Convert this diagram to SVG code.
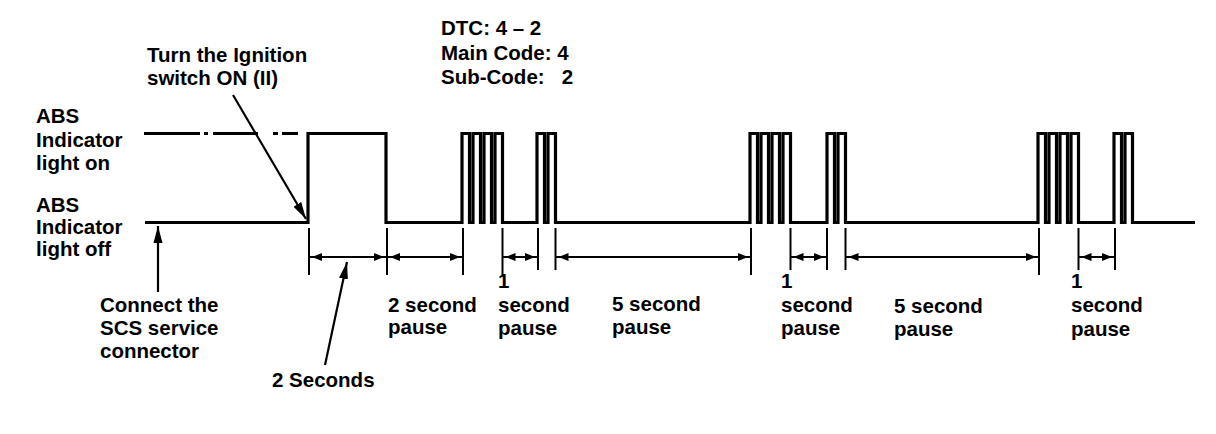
<svg xmlns="http://www.w3.org/2000/svg" width="1216" height="434" viewBox="0 0 1216 434">
<style>
text{font-family:"Liberation Sans",Arial,sans-serif;font-weight:bold;font-size:20.5px;fill:#000}
.wave{fill:none;stroke:#000;stroke-width:3.2;stroke-linejoin:miter;stroke-linecap:butt}
.ext{stroke:#000;stroke-width:2}
.dim{stroke:#000;stroke-width:2;marker-start:url(#dimArrow);marker-end:url(#dimArrow)}
.call{stroke:#000;stroke-width:2.2;fill:none;marker-end:url(#callArrow)}
</style>
<defs>
<marker id="dimArrow" markerUnits="userSpaceOnUse" markerWidth="16" markerHeight="12" viewBox="0 0 16 12" refX="13" refY="6" orient="auto-start-reverse">
<path d="M0,2 L10,6 L0,10 Z" fill="#000"/>
</marker>
<marker id="callArrow" markerUnits="userSpaceOnUse" markerWidth="18" markerHeight="12" viewBox="0 0 18 12" refX="17" refY="6" orient="auto">
<path d="M0,1.5 L17,6 L0,10.5 Z" fill="#000"/>
</marker>
</defs>
<rect width="1216" height="434" fill="#fff"/>

<g id="signal">
<path class="wave" d="M145,222.5 H308 V133.5 H386 V222.5 H462 V133.5 H469.5 V222.5 H473 V133.5 H480.5 V222.5 H484 V133.5 H491.5 V222.5 H495 V133.5 H502.5 V222.5 H537 V133.5 H544.5 V222.5 H548 V133.5 H555.5 V222.5 H750 V133.5 H757.5 V222.5 H761 V133.5 H768.5 V222.5 H772 V133.5 H779.5 V222.5 H783 V133.5 H790.5 V222.5 H827 V133.5 H834.5 V222.5 H838 V133.5 H845.5 V222.5 H1038 V133.5 H1045.5 V222.5 H1049 V133.5 H1056.5 V222.5 H1060 V133.5 H1067.5 V222.5 H1071 V133.5 H1078.5 V222.5 H1114 V133.5 H1121.5 V222.5 H1125 V133.5 H1132.5 V222.5 H1195"/>
<path class="wave" d="M144,133.5 H200 M204,133.5 H208 M213,133.5 H258 M273,133.5 H278 M282,133.5 H298"/>
</g>

<g id="connectors">
<g id="extension-lines">
<line class="ext" x1="309" y1="228" x2="309" y2="275"/>
<line class="ext" x1="387" y1="228" x2="387" y2="275"/>
<line class="ext" x1="463" y1="228" x2="463" y2="275"/>
<line class="ext" x1="502.5" y1="228" x2="502.5" y2="275"/>
<line class="ext" x1="538" y1="228" x2="538" y2="270"/>
<line class="ext" x1="555.5" y1="228" x2="555.5" y2="270"/>
<line class="ext" x1="751" y1="228" x2="751" y2="275"/>
<line class="ext" x1="790.5" y1="228" x2="790.5" y2="270"/>
<line class="ext" x1="827" y1="228" x2="827" y2="270"/>
<line class="ext" x1="845.5" y1="228" x2="845.5" y2="270"/>
<line class="ext" x1="1039" y1="228" x2="1039" y2="275"/>
<line class="ext" x1="1078.5" y1="228" x2="1078.5" y2="270"/>
<line class="ext" x1="1115" y1="228" x2="1115" y2="270"/>
</g>
<g id="dimension-lines">
<line class="dim" x1="309" y1="257" x2="387" y2="257"/>
<line class="dim" x1="387" y1="257" x2="463" y2="257"/>
<line class="dim" x1="502.5" y1="257" x2="538" y2="257"/>
<line class="dim" x1="555.5" y1="257" x2="751" y2="257"/>
<line class="dim" x1="790.5" y1="257" x2="827" y2="257"/>
<line class="dim" x1="845.5" y1="257" x2="1039" y2="257"/>
<line class="dim" x1="1078.5" y1="257" x2="1115" y2="257"/>
</g>
<g id="callouts">
<line class="call" x1="233" y1="95" x2="306" y2="219"/>
<line class="call" x1="158" y1="292" x2="158" y2="226"/>
<line class="call" x1="325" y1="365" x2="347" y2="262"/>
</g>
</g>

<g id="label-ignition"><text x="147" y="62">Turn the Ignition</text><text x="147" y="85">switch ON (II)</text></g>
<g id="label-dtc"><text x="441" y="35">DTC: 4 – 2</text><text x="441" y="60">Main Code: 4</text><text x="441" y="84" xml:space="preserve">Sub-Code:   2</text></g>
<g id="label-on"><text x="36" y="123">ABS</text><text x="36" y="147">Indicator</text><text x="36" y="170">light on</text></g>
<g id="label-off"><text x="36" y="212">ABS</text><text x="36" y="234">Indicator</text><text x="36" y="256">light off</text></g>
<g id="label-connect"><text x="100" y="312">Connect the</text><text x="100" y="335">SCS service</text><text x="100" y="358">connector</text></g>
<g id="label-2seconds"><text x="272" y="387">2 Seconds</text></g>
<g id="label-pause2"><text x="388" y="312">2 second</text><text x="388" y="334">pause</text></g>
<g id="label-pause1a"><text x="498" y="288">1</text><text x="498" y="312">second</text><text x="498" y="335">pause</text></g>
<g id="label-pause5a"><text x="612" y="311">5 second</text><text x="612" y="334">pause</text></g>
<g id="label-pause1b"><text x="781" y="288">1</text><text x="781" y="312">second</text><text x="781" y="335">pause</text></g>
<g id="label-pause5b"><text x="894" y="313">5 second</text><text x="894" y="336">pause</text></g>
<g id="label-pause1c"><text x="1071" y="288">1</text><text x="1071" y="312">second</text><text x="1071" y="336">pause</text></g>
</svg>
